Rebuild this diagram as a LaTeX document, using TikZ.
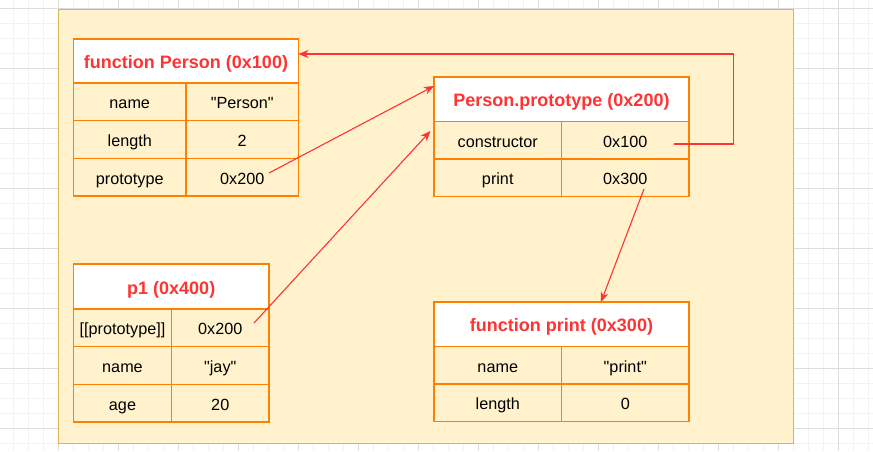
\documentclass[tikz,border=0pt]{standalone}
\usepackage{fontspec}
\setmainfont{Liberation Sans}
\usetikzlibrary{arrows.meta}
\definecolor{gridminor}{HTML}{F2F2F2}
\definecolor{gridmajor}{HTML}{DDDDDD}
\definecolor{panelfill}{HTML}{FFF2CC}
\definecolor{panelline}{HTML}{D6B656}
\definecolor{cellline}{HTML}{FF8000}
\definecolor{redtext}{HTML}{FF3333}
\newcommand{\dq}{\textquotedbl}
\tikzset{
  cell/.style={draw=cellline, line width=1.4pt, anchor=north west, inner sep=0pt, outer sep=0pt,
    font=\fontsize{16.2}{19}\selectfont, text=black, text height=14pt, text depth=0pt},
  head/.style={cell, fill=white, text=redtext, font=\fontsize{18}{21}\selectfont\bfseries,
    text height=15pt, text depth=0pt},
  arr/.style={draw=redtext, line width=1.1pt, -{Stealth[length=10pt,width=8pt,inset=3pt]}},
  minorline/.style={draw=gridminor, line width=1pt},
  majorline/.style={draw=gridmajor, line width=1pt},
}
\begin{document}
\begin{tikzpicture}[x=1pt,y=-1pt]
\useasboundingbox (0,0) rectangle (873,451);
\fill[white] (0,0) rectangle (873,451);
% grid
\foreach \x in {13.33,28.33,...,873} \draw[minorline] (\x,0) -- (\x,451);
\foreach \y in {8.33,23.33,...,451} \draw[minorline] (0,\y) -- (873,\y);
\foreach \x in {58.33,118.33,...,873} \draw[majorline] (\x,0) -- (\x,451);
\foreach \y in {8.33,68.33,...,451} \draw[majorline] (0,\y) -- (873,\y);
% panel
\draw[fill=panelfill, draw=panelline, line width=1.5pt] (58.5,9.5) rectangle (793.5,443.5);

% table A: function Person
\node[head, minimum width=225pt, minimum height=44pt] (Ah) at (73.5,39) {function Person (0x100)};
\node[cell, minimum width=112.5pt, minimum height=37.7pt] (Ak1) at (73.5,83) {name};
\node[cell, minimum width=112.5pt, minimum height=37.7pt] (Av1) at (186,83) {\dq Person\dq};
\node[cell, minimum width=112.5pt, minimum height=37.7pt] (Ak2) at (73.5,120.7) {length};
\node[cell, minimum width=112.5pt, minimum height=37.7pt] (Av2) at (186,120.7) {2};
\node[cell, minimum width=112.5pt, minimum height=37.7pt] (Ak3) at (73.5,158.4) {prototype};
\node[cell, minimum width=112.5pt, minimum height=37.7pt] (Av3) at (186,158.4) {0x200};

% table B: Person.prototype
\node[head, minimum width=255pt, minimum height=44.5pt] (Bh) at (434,77) {Person.prototype (0x200)};
\node[cell, minimum width=127.5pt, minimum height=37.5pt] (Bk1) at (434,121.5) {constructor};
\node[cell, minimum width=127.5pt, minimum height=37.5pt] (Bv1) at (561.5,121.5) {0x100};
\node[cell, minimum width=127.5pt, minimum height=37.5pt] (Bk2) at (434,159) {print};
\node[cell, minimum width=127.5pt, minimum height=37.5pt] (Bv2) at (561.5,159) {0x300};

% table C: p1
\node[head, minimum width=195.5pt, minimum height=45pt] (Ch) at (73.5,264) {p1 (0x400)};
\node[cell, minimum width=98pt, minimum height=37.7pt] (Ck1) at (73.5,309) {[[prototype]]};
\node[cell, minimum width=97.5pt, minimum height=37.7pt] (Cv1) at (171.5,309) {0x200};
\node[cell, minimum width=98pt, minimum height=37.7pt] (Ck2) at (73.5,346.7) {name};
\node[cell, minimum width=97.5pt, minimum height=37.7pt] (Cv2) at (171.5,346.7) {\dq jay\dq};
\node[cell, minimum width=98pt, minimum height=37.7pt] (Ck3) at (73.5,384.4) {age};
\node[cell, minimum width=97.5pt, minimum height=37.7pt] (Cv3) at (171.5,384.4) {20};

% table D: function print
\node[head, minimum width=255pt, minimum height=44.5pt] (Dh) at (434,302) {function print (0x300)};
\node[cell, minimum width=127.5pt, minimum height=37.5pt] (Dk1) at (434,346.5) {name};
\node[cell, minimum width=127.5pt, minimum height=37.5pt] (Dv1) at (561.5,346.5) {\dq print\dq};
\node[cell, minimum width=127.5pt, minimum height=37.5pt] (Dk2) at (434,384) {length};
\node[cell, minimum width=127.5pt, minimum height=37.5pt] (Dv2) at (561.5,384) {0};

% connectors
\coordinate (s1) at (674,144);
\coordinate (k1) at (733.5,54);
\draw[arr] (s1) -| (k1) -- (Ah.east |- k1);

\coordinate (s2) at (269,173);
\coordinate (e2) at (0,86);
\draw[arr] (s2) -- (Bh.west |- e2);

\coordinate (s3) at (254,323);
\coordinate (e3) at (430.5,131);
\draw[arr] (s3) -- (e3);

\coordinate (s4) at (644,189);
\coordinate (e4) at (601,0);
\draw[arr] (s4) -- (Dh.north -| e4);
\end{tikzpicture}
\end{document}
